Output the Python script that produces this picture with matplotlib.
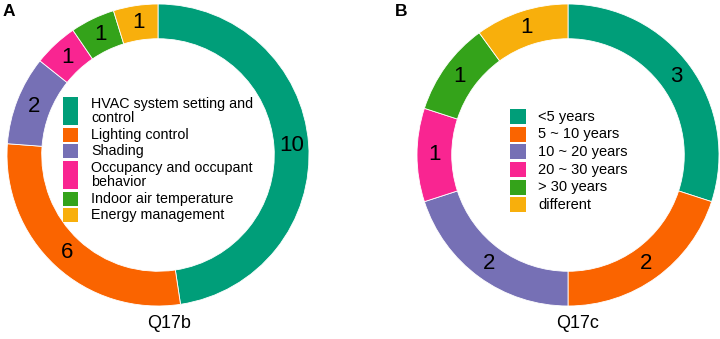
import matplotlib

matplotlib.use("Agg")
import matplotlib.pyplot as plt  # noqa: E402
from matplotlib.patches import Rectangle  # noqa: E402

plt.rcParams["font.family"] = ["Liberation Sans", "DejaVu Sans"]

W, H = 720, 339
DPI = 100

COLORS = ["#009E79", "#FA6400", "#7670B5", "#F92591", "#34A31A", "#F8AF0C"]

labels_a = [
    "HVAC system setting and\ncontrol",
    "Lighting control",
    "Shading",
    "Occupancy and occupant\nbehavior",
    "Indoor air temperature",
    "Energy management",
]
values_a = [10, 6, 2, 1, 1, 1]

labels_b = ["<5 years", "5 ~ 10 years", "10 ~ 20 years", "20 ~ 30 years", "> 30 years", "different"]
values_b = [3, 2, 2, 1, 1, 1]


def donut(fig, cx, cy, r, values):
    # cx, cy, r in pixels (y from top)
    ax = fig.add_axes(((cx - r) / W, (H - cy - r) / H, 2 * r / W, 2 * r / H))
    total = sum(values)
    ax.pie(
        values,
        colors=COLORS,
        startangle=90,
        counterclock=False,
        radius=1.0,
        wedgeprops=dict(width=0.23, edgecolor="white", linewidth=0.6),
        autopct=lambda p: f"{round(p * total / 100)}",
        pctdistance=0.885,
        textprops=dict(fontsize=16, color="black"),
    )
    ax.set_xlim(-1, 1)
    ax.set_ylim(-1, 1)
    ax.set_aspect("equal")
    ax.axis("off")


def legend(ov, x0, y0, labels, box_w, line_h, gap, fsize, text_x):
    y = y0
    for lab, c in zip(labels, COLORS):
        n = lab.count("\n") + 1
        h = n * line_h
        ov.add_patch(Rectangle((x0, y), box_w, h, facecolor=c, edgecolor="none"))
        ov.text(text_x, y + h / 2, lab, fontsize=fsize, va="center", ha="left",
                linespacing=1.0)
        y += h + gap


fig = plt.figure(figsize=(W / DPI, H / DPI), dpi=DPI)
fig.patch.set_facecolor("white")

donut(fig, 158, 155, 151, values_a)
donut(fig, 568, 155, 151, values_b)

ov = fig.add_axes((0, 0, 1, 1))
ov.set_xlim(0, W)
ov.set_ylim(H, 0)
ov.axis("off")

legend(ov, 63, 97, labels_a, 15, 14, 2.7, 10.3, 91)
legend(ov, 510, 109, labels_b, 16, 15, 2.7, 10.5, 538)

ov.text(3, 12, "A", fontsize=12.5, fontweight="bold", va="center", ha="left")
ov.text(395, 12, "B", fontsize=12.5, fontweight="bold", va="center", ha="left")
ov.text(169, 324, "Q17b", fontsize=13, va="center", ha="center")
ov.text(578, 324, "Q17c", fontsize=13, va="center", ha="center")

fig.savefig("out.png", dpi=DPI, facecolor="white")
